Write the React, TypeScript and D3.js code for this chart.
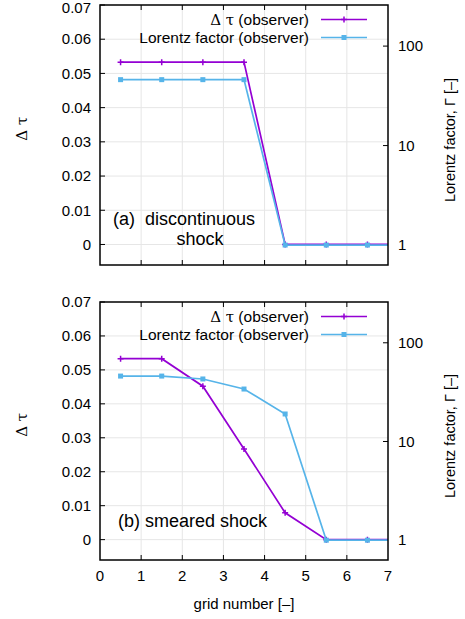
import * as d3 from "d3";

// grid cell centres (last one lies outside the frame and is clipped)
const gridX = [0.5, 1.5, 2.5, 3.5, 4.5, 5.5, 6.5, 7.5];

// (a) discontinuous shock
const dtauA = [0.0533, 0.0533, 0.0533, 0.0533, 0, 0, 0, 0];
const gammaA = [46, 46, 46, 46, 1, 1, 1, 1];

// (b) smeared shock
const dtauB = [0.0533, 0.0533, 0.0452, 0.0267, 0.0079, 0, 0, 0];
const gammaB = [46, 46, 43, 34, 19, 1, 1, 1];

const xTicks = [0, 1, 2, 3, 4, 5, 6, 7];
const yTicks = [0, 0.01, 0.02, 0.03, 0.04, 0.05, 0.06, 0.07];
const y2Ticks = [1, 10, 100];

const PURPLE = "#9400d3";
const BLUE = "#56b4e9";
const SANS = "'Liberation Sans', Arial, sans-serif";
const SERIF = "'DejaVu Serif', 'Liberation Serif', serif";

const LEFT = 100;
const RIGHT = 388;

type PanelProps = {
  id: string;
  top: number;
  bottom: number;
  dtau: number[];
  gamma: number[];
  label: string[];
  labelX: number;
  labelY: number;
  showXLabels: boolean;
};

const Panel = ({ id, top, bottom, dtau, gamma, label, labelX, labelY, showXLabels }: PanelProps) => {
  const x = d3.scaleLinear().domain([0, 7]).range([LEFT, RIGHT]);
  const y = d3.scaleLinear().domain([-0.006, 0.07]).range([bottom, top]);
  const y2 = d3.scaleLog().domain([0.63, 259]).range([bottom, top]);

  const pts = gridX.map((g, i) => ({ g, t: dtau[i], G: gamma[i] }));
  const lineT = d3.line<(typeof pts)[0]>().x((d) => x(d.g)).y((d) => y(d.t));
  const lineG = d3.line<(typeof pts)[0]>().x((d) => x(d.g)).y((d) => y2(d.G));

  const tl = 5;
  const y0 = y(0);
  const leg1 = top + 14.5;
  const leg2 = top + 32.5;
  return (
    <g>
      <defs>
        <clipPath id={id}>
          <rect x={LEFT} y={top} width={RIGHT - LEFT} height={bottom - top} />
        </clipPath>
      </defs>
      {/* grid */}
      {xTicks.slice(1, -1).map((v) => (
        <line key={"gx" + v} x1={x(v)} x2={x(v)} y1={top} y2={bottom} stroke="#e6e6e6" strokeWidth={1} />
      ))}
      {yTicks.slice(0, -1).map((v) => (
        <line key={"gy" + v} x1={LEFT} x2={RIGHT} y1={y(v)} y2={y(v)} stroke="#e6e6e6" strokeWidth={1} />
      ))}
      {/* ticks */}
      {xTicks.slice(1, -1).map((v) => (
        <g key={"tx" + v} stroke="#000" strokeWidth={1}>
          <line x1={x(v)} x2={x(v)} y1={bottom} y2={bottom - tl} />
          <line x1={x(v)} x2={x(v)} y1={top} y2={top + tl} />
        </g>
      ))}
      {yTicks.map((v) => (
        <line key={"ty" + v} x1={LEFT} x2={LEFT + tl} y1={y(v)} y2={y(v)} stroke="#000" />
      ))}
      {y2Ticks.map((v) => (
        <line key={"ty2" + v} x1={RIGHT} x2={RIGHT - tl} y1={y2(v)} y2={y2(v)} stroke="#000" />
      ))}
      {/* tick labels */}
      {yTicks.map((v) => (
        <text
          key={"ly" + v}
          x={LEFT - 9}
          y={Math.max(y(v), 7.5)}
          dy="0.35em"
          textAnchor="end"
          fontSize={15}
          fontFamily={SANS}
        >
          {v === 0 ? "0" : d3.format(".2f")(v)}
        </text>
      ))}
      {y2Ticks.map((v) => (
        <text key={"ly2" + v} x={RIGHT + 10} y={y2(v)} dy="0.35em" textAnchor="start" fontSize={15} fontFamily={SANS}>
          {v}
        </text>
      ))}
      {showXLabels &&
        xTicks.map((v) => (
          <text key={"lx" + v} x={x(v)} y={bottom + 21} textAnchor="middle" fontSize={15} fontFamily={SANS}>
            {v}
          </text>
        ))}
      {/* axis titles */}
      <text
        transform={`translate(27,${(top + y0) / 2 + 4}) rotate(-90)`}
        textAnchor="middle"
        fontSize={15}
        fontFamily={SERIF}
      >
        Δ τ
      </text>
      <text
        transform={`translate(455,${(top + bottom) / 2 + 5}) rotate(-90)`}
        textAnchor="middle"
        fontSize={14.5}
        fontFamily={SANS}
      >
        Lorentz factor, Γ [–]
      </text>
      {/* data */}
      <g clipPath={`url(#${id})`}>
        <path d={lineT(pts) ?? ""} fill="none" stroke={PURPLE} strokeWidth={1.7} />
        {pts.map((d, i) => (
          <path
            key={"mt" + i}
            d={`M${x(d.g) - 3},${y(d.t)}h6M${x(d.g)},${y(d.t) - 3}v6`}
            stroke={PURPLE}
            strokeWidth={1.5}
          />
        ))}
        <path d={lineG(pts) ?? ""} fill="none" stroke={BLUE} strokeWidth={1.7} />
        {pts.map((d, i) => (
          <rect key={"mg" + i} x={x(d.g) - 2.5} y={y2(d.G) - 2.5} width={5} height={5} fill={BLUE} />
        ))}
      </g>
      {/* legend */}
      <text x={309} y={leg1} dy="0.35em" textAnchor="end" fontSize={15.5} fontFamily={SANS}>
        <tspan fontFamily={SERIF} fontSize={15}>Δ τ</tspan> (observer)
      </text>
      <line x1={321} x2={367} y1={leg1} y2={leg1} stroke={PURPLE} strokeWidth={1.7} />
      <path d={`M341,${leg1}h6M344,${leg1 - 3}v6`} stroke={PURPLE} strokeWidth={1.5} />
      <text x={309} y={leg2} dy="0.35em" textAnchor="end" fontSize={15.5} fontFamily={SANS}>
        Lorentz factor (observer)
      </text>
      <line x1={321} x2={367} y1={leg2} y2={leg2} stroke={BLUE} strokeWidth={1.7} />
      <rect x={341.5} y={leg2 - 2.5} width={5} height={5} fill={BLUE} />
      {/* annotation */}
      {label.map((s, i) => (
        <text
          key={"an" + i}
          x={i === 0 ? labelX : 200}
          y={labelY + i * 20}
          textAnchor={i === 0 ? "start" : "middle"}
          fontSize={18}
          fontFamily={SANS}
          style={{ whiteSpace: "pre" }}
        >
          {s}
        </text>
      ))}
      {/* frame */}
      <rect x={LEFT} y={top} width={RIGHT - LEFT} height={bottom - top} fill="none" stroke="#000" strokeWidth={1.5} />
    </g>
  );
};

export default function App() {
  return (
    <svg width={465} height={619} style={{ position: "absolute", left: 0, top: 0 }}>
      <rect width={465} height={619} fill="#fff" />
      <Panel
        id="clipA"
        top={5}
        bottom={265}
        dtau={dtauA}
        gamma={gammaA}
        label={["(a)  discontinuous", "shock"]}
        labelX={113}
        labelY={224.5}
        showXLabels={false}
      />
      <Panel
        id="clipB"
        top={302}
        bottom={560}
        dtau={dtauB}
        gamma={gammaB}
        label={["(b) smeared shock"]}
        labelX={118}
        labelY={526.5}
        showXLabels={true}
      />
      <text x={244} y={609} textAnchor="middle" fontSize={15} fontFamily={SANS}>
        grid number [–]
      </text>
    </svg>
  );
}
